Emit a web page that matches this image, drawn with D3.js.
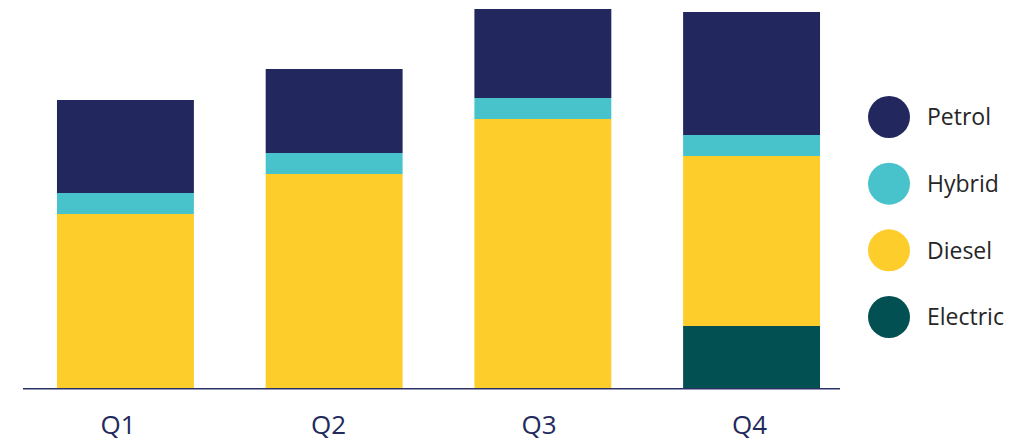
<!DOCTYPE html>
<html>
<head>
<meta charset="utf-8">
<script src="https://cdn.jsdelivr.net/npm/d3@7"></script>
<style>
  html, body { margin: 0; padding: 0; background: #ffffff; }
  svg { display: block; }
</style>
</head>
<body>
<svg id="chart" width="1029" height="442"></svg>
<script>
// ---- data ----
const quarters = ["Q1", "Q2", "Q3", "Q4"];
const seriesNames = ["Electric", "Diesel", "Hybrid", "Petrol"]; // stacking order, bottom to top
const electric = [0, 0, 0, 62];
const diesel   = [174, 214, 269, 170];
const hybrid   = [21, 21, 21, 21];
const petrol   = [93, 84, 89, 123];
const legendOrder = ["Petrol", "Hybrid", "Diesel", "Electric"];
const colors = { Petrol: "#22285e", Hybrid: "#48c3cc", Diesel: "#fdcd2c", Electric: "#025052" };

// table built from the arrays
const table = quarters.map((q, i) => ({
  quarter: q, Electric: electric[i], Diesel: diesel[i], Hybrid: hybrid[i], Petrol: petrol[i]
}));

const svg = d3.select("#chart");

const x = d3.scaleBand().domain(quarters).range([24, 853]).paddingInner(0.344).paddingOuter(0.158);
const xLabel = d3.scalePoint().domain(quarters).range([118, 749.5]);
const y = d3.scaleLinear().domain([0, 379]).range([388, 9]);

const stack = d3.stack().keys(seriesNames);
const layers = stack(table);

svg.append("g").selectAll("g")
  .data(layers)
  .join("g")
  .attr("fill", d => colors[d.key])
  .selectAll("rect")
  .data(d => d)
  .join("rect")
  .attr("x", d => x(d.data.quarter))
  .attr("width", x.bandwidth())
  .attr("y", d => y(d[1]))
  .attr("height", d => Math.max(0, y(d[0]) - y(d[1])));

// baseline
svg.append("line")
  .attr("x1", 23).attr("x2", 840)
  .attr("y1", y(0) + 0.75).attr("y2", y(0) + 0.75)
  .attr("stroke", "#2a3068").attr("stroke-width", 1.5);

// category labels
svg.append("g").selectAll("text")
  .data(quarters)
  .join("text")
  .attr("x", d => xLabel(d))
  .attr("y", 434)
  .attr("text-anchor", "middle")
  .attr("font-family", "Open Sans, sans-serif")
  .attr("font-size", 26)
  .attr("fill", "#232a5c")
  .text(d => d);

// legend
const legendY = d3.scalePoint().domain(legendOrder).range([117, 317]);
const lg = svg.append("g").selectAll("g")
  .data(legendOrder)
  .join("g")
  .attr("transform", d => `translate(889,${legendY(d)})`);
lg.append("circle").attr("r", 21).attr("fill", d => colors[d]);
lg.append("text")
  .attr("x", 38)
  .attr("y", 0)
  .attr("dy", "0.36em")
  .attr("font-family", "Open Sans, sans-serif")
  .attr("font-size", 23)
  .attr("fill", "#262626")
  .text(d => d);
</script>
</body>
</html>
